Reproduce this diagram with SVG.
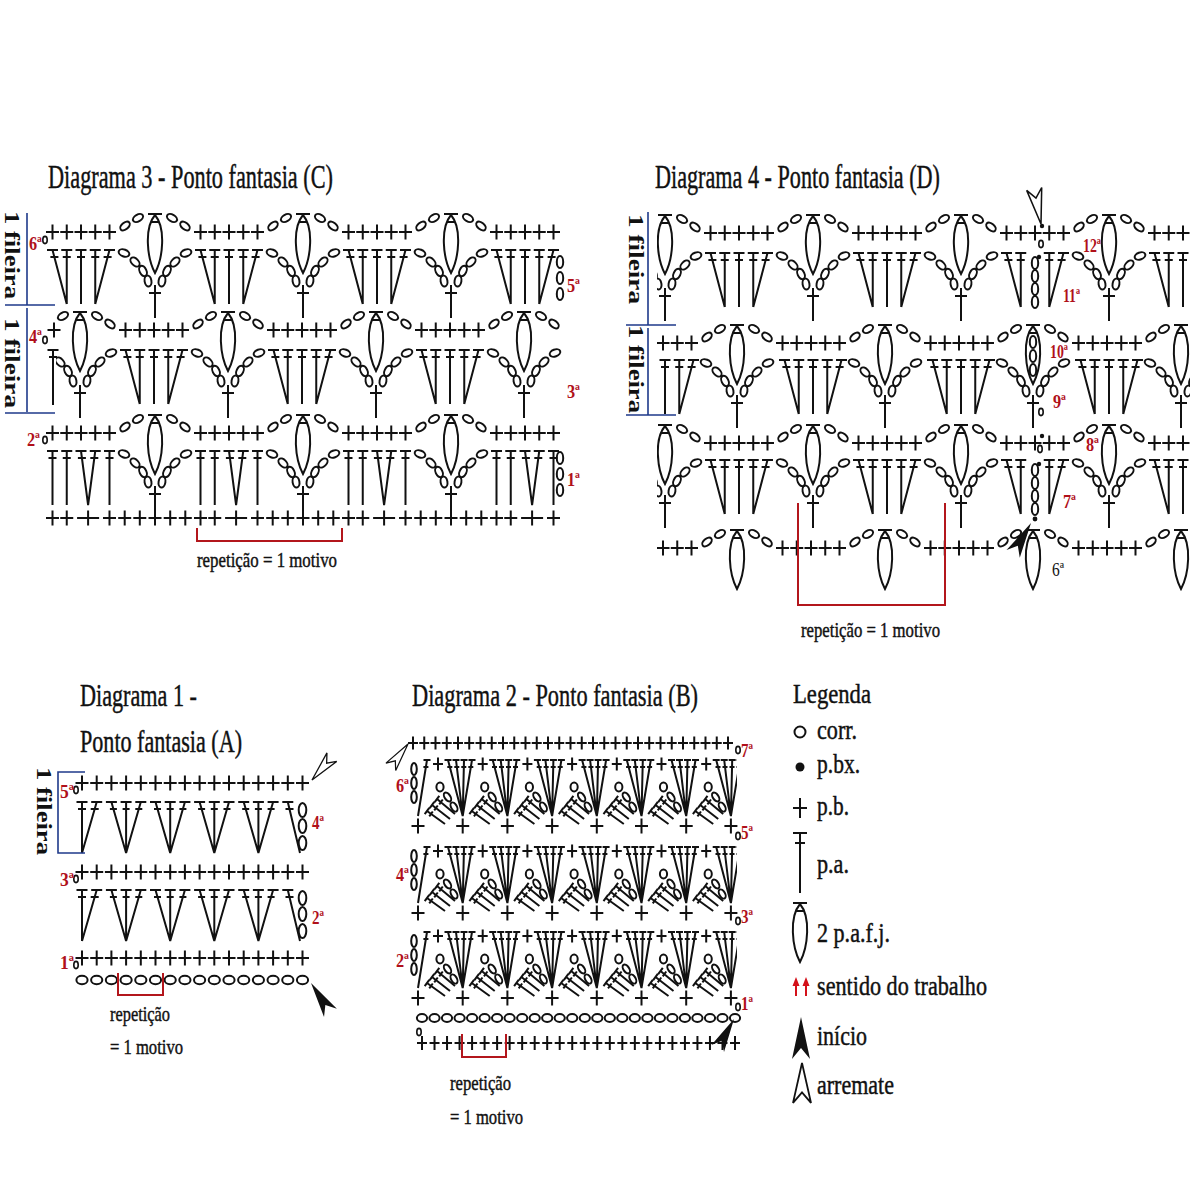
<svg xmlns="http://www.w3.org/2000/svg" width="1200" height="1200" viewBox="0 0 1200 1200">
<style>
.s{fill:none;stroke:#111;stroke-width:2}
.o{fill:none;stroke:#111;stroke-width:2}
.t{font-family:"Liberation Serif","Times New Roman",serif;fill:#111;stroke:#111;stroke-width:0.45}
.r{font-family:"Liberation Serif","Times New Roman",serif;font-weight:bold;font-size:19px;fill:#b0101a}
.fi{font-family:"Liberation Serif","Times New Roman",serif;font-weight:bold;font-size:21px;fill:#111}
.br{fill:none;stroke:#b3161c;stroke-width:2}
.bl{fill:none;stroke:#1f3a8a;stroke-width:1.6}
</style>
<defs>
<path id="p" class="s" d="M-6.5,0H6.5M0,-7.5V7.5"/>
<path id="q" class="s" d="M-5,0H5M0,-6.5V6.5"/>
<path id="pL" class="s" d="M-6,0H6M0,-8V25"/>
<path id="pW" class="s" d="M-11,0H11M0,-7.5V7.5"/>
<ellipse id="c" class="o" rx="5.5" ry="3.4"/>
<ellipse id="cv" class="o" rx="3.2" ry="6"/>
<ellipse id="cv1" class="o" rx="3.8" ry="7"/>
<ellipse id="cv2" class="o" rx="2.8" ry="6"/>
<ellipse id="cs" class="o" rx="2.2" ry="3.6" style="stroke-width:1.6"/>
<ellipse id="c1" class="o" rx="5.6" ry="4.2"/>
<ellipse id="c3" class="o" rx="5.1" ry="4"/>
<ellipse id="c2" class="o" rx="5" ry="2.8"/>
<path id="f" class="s" d="M-7,0H7M-4.5,8H4.5M0,1C-11,14 -8,44 0,59C8,44 11,14 0,1"/>
<path id="aF" d="M0,0L9,42L0,31L-9,42Z" fill="#111"/>
<path id="aO" d="M0,0L9,42L0,31L-9,42Z" fill="#fff" stroke="#111" stroke-width="1.8"/>
<g id="R">
<use href="#f" y="-18"/>
<use href="#c" transform="translate(17,-14) rotate(30)"/>
<use href="#c" transform="translate(30,-6) rotate(40)"/>
<use href="#c" transform="translate(118,-6) rotate(-40)"/>
<use href="#c" transform="translate(131,-14) rotate(-30)"/>
<use href="#p" x="45.5"/><use href="#p" x="59.75"/><use href="#p" x="74"/><use href="#p" x="88.25"/><use href="#p" x="102.5"/>
</g>
<g id="C">
<use href="#c" transform="translate(-31,3) rotate(20)"/>
<use href="#c" transform="translate(-20,12) rotate(45)"/>
<use href="#c" transform="translate(-12,21) rotate(65)"/>
<use href="#c" transform="translate(-7,31) rotate(80)"/>
<use href="#c" transform="translate(31,3) rotate(-20)"/>
<use href="#c" transform="translate(20,12) rotate(-45)"/>
<use href="#c" transform="translate(12,21) rotate(-65)"/>
<use href="#c" transform="translate(7,31) rotate(-80)"/>
<use href="#pL" y="43"/>
</g>
<path id="G" class="s" d="M-28.5,0L-14.25,54M-14.25,0V54M0,0V54M14.25,0V54M28.5,0L14.25,54M-34,0H-23M-19.75,0H-8.75M-5.5,0H5.5M8.75,0H19.75M23,0H34M-30.6,7H-22.6M-18.25,7H-10.25M-4,7H4M10.25,7H18.25M22.6,7H30.6"/>
<path id="G1" class="s" d="M-28.5,0V54M-14.25,0V54M0,0L7.1,54M14.25,0L7.1,54M28.5,0V54M-34,0H-23M-19.75,0H-8.75M-5.5,0H5.5M8.75,0H19.75M23,0H34M-32.5,7H-24.5M-18.25,7H-10.25M-3.1,7H4.9M9.3,7H17.3M24.5,7H32.5"/>
<g id="J">
<path class="s" d="M-28.5,0L-14.25,54M-14.25,0V54M14.25,0V54M28.5,0L14.25,54M-34,0H-23M-19.75,0H-8.75M8.75,0H19.75M23,0H34M-30.6,7H-22.6M-18.25,7H-10.25M10.25,7H18.25M22.6,7H30.6"/>
<use href="#cv" y="10"/><use href="#cv" y="23"/><use href="#cv" y="36"/><use href="#cv" y="49"/>
<circle cx="4" cy="4" r="2.2" fill="#111"/>
</g>
<path id="m1" class="s" d="M-14.7,0L0,51M0,0V51M14.7,0L0,51M-20.2,0H-9.2M-5.5,0H5.5M9.2,0H20.2M-16.2,7H-9.2M-3.5,7H3.5M9.2,7H16.2"/>
<g id="m2">
<use href="#q" x="20" y="4"/>
<path class="s" d="M30,0L44.7,56M38,0L44.7,56M46,0L44.7,56M54,0L44.7,56M26.5,0H33.5M34.5,0H41.5M42.5,0H49.5M50.5,0H57.5M29.3,7H34.3M36.3,7H41.3M43.3,7H48.3M50.3,7H55.3"/>
<ellipse class="o" cx="22" cy="27" rx="3.6" ry="4.4"/>
<use href="#c2" transform="translate(29.5,37) rotate(55)"/>
<use href="#c2" transform="translate(36,47) rotate(60)"/>
<path class="s" d="M9,51L27,64M14,45L32,59M19,39L37,54M6.7,54.2L11.3,47.8M11.7,48.2L16.3,41.8M16.7,42.2L21.3,35.8M11.25,56.3L14.75,51.5M16.25,50.3L19.75,45.5M21.25,44.3L24.75,39.5"/>
</g>
<g id="F3a"><use href="#p" x="-28.5"/><use href="#p" x="-14.25"/><use href="#pW" x="7.1"/><use href="#p" x="28.5"/></g>
<g id="F3b"><use href="#p" x="43.7"/><use href="#p" x="58.8"/><use href="#p" x="74"/><use href="#p" x="89.2"/><use href="#p" x="104.3"/></g>
<g id="r1"><use href="#p" x="82"/><use href="#p" x="96.7"/><use href="#p" x="111.4"/><use href="#p" x="126.1"/><use href="#p" x="140.8"/><use href="#p" x="155.5"/><use href="#p" x="170.2"/><use href="#p" x="184.9"/><use href="#p" x="199.6"/><use href="#p" x="214.3"/><use href="#p" x="229"/><use href="#p" x="243.7"/><use href="#p" x="258.4"/><use href="#p" x="273.1"/><use href="#p" x="287.8"/><use href="#p" x="302.5"/></g>
<g id="f1">
<path class="s" d="M82,0V51M76.5,0H87.5M78,7H86M96.7,0L82,51M91.2,0H102.2M90.7,7H98.7M287.8,0L300,51M282.3,0H293.3M285.5,7H293.5"/>
<use href="#m1" x="126.1"/><use href="#m1" x="170.2"/><use href="#m1" x="214.3"/><use href="#m1" x="258.4"/>
<use href="#cv1" x="302.5" y="8"/><use href="#cv1" x="302.5" y="24"/><use href="#cv1" x="302.5" y="41"/>
</g>
<g id="F2">
<path class="s" d="M427,0L418,56M423.5,0H430.5M423.4,7H428.4"/>
<use href="#cv2" x="414" y="9"/><use href="#cv2" x="414" y="23"/><use href="#cv2" x="414" y="37"/>
<use href="#m2" x="418"/><use href="#m2" x="462.7"/><use href="#m2" x="507.4"/><use href="#m2" x="552.1"/><use href="#m2" x="596.8"/><use href="#m2" x="641.5"/><use href="#m2" x="686.2"/>
</g>
<g id="P2"><use href="#p" x="418"/><use href="#p" x="462.7"/><use href="#p" x="507.4"/><use href="#p" x="552.1"/><use href="#p" x="596.8"/><use href="#p" x="641.5"/><use href="#p" x="686.2"/><use href="#p" x="730.9"/></g>
<clipPath id="k3a"><rect x="45" y="150" width="518" height="420"/></clipPath>
<clipPath id="k3b"><rect x="56" y="150" width="507" height="420"/></clipPath>
<clipPath id="k4"><rect x="657" y="190" width="533" height="420"/></clipPath>
<clipPath id="k2"><rect x="400" y="740" width="337" height="300"/></clipPath>
</defs>
<rect width="1200" height="1200" fill="#fff"/>

<g id="diagram3">
<text class="t" x="48" y="188" font-size="33" textLength="285" lengthAdjust="spacingAndGlyphs">Diagrama 3 - Ponto fantasia (C)</text>
<g clip-path="url(#k3a)">
<use href="#R" x="7" y="232"/><use href="#R" x="155" y="232"/><use href="#R" x="303" y="232"/><use href="#R" x="451" y="232"/>
<use href="#G" x="81" y="250"/><use href="#G" x="229" y="250"/><use href="#G" x="377" y="250"/><use href="#G" x="525" y="250"/>
<use href="#C" x="155" y="250"/><use href="#C" x="303" y="250"/><use href="#C" x="451" y="250"/>
<use href="#R" x="7" y="433"/><use href="#R" x="155" y="433"/><use href="#R" x="303" y="433"/><use href="#R" x="451" y="433"/>
<use href="#G1" x="81" y="451"/><use href="#G1" x="229" y="451"/><use href="#G1" x="377" y="451"/><use href="#G1" x="525" y="451"/>
<use href="#C" x="155" y="451"/><use href="#C" x="303" y="451"/><use href="#C" x="451" y="451"/>
</g>
<g clip-path="url(#k3b)">
<use href="#R" x="-68" y="330"/><use href="#R" x="80" y="330"/><use href="#R" x="228" y="330"/><use href="#R" x="376" y="330"/><use href="#R" x="524" y="330"/>
<use href="#G" x="154" y="350"/><use href="#G" x="302" y="350"/><use href="#G" x="450" y="350"/>
<use href="#C" x="80" y="350"/><use href="#C" x="228" y="350"/><use href="#C" x="376" y="350"/><use href="#C" x="524" y="350"/>
</g>
<use href="#p" x="54" y="330"/>
<path class="s" d="M53,350V405M47.5,350H58.5M49,357H57"/>
<use href="#cs" x="45" y="240"/><use href="#cs" x="45" y="340"/><use href="#cs" x="45" y="440"/>
<use href="#cv" x="560" y="262"/><use href="#cv" x="560" y="278"/><use href="#cv" x="560" y="294"/>
<use href="#cv" x="560" y="458"/><use href="#cv" x="560" y="474"/><use href="#cv" x="560" y="490"/>
<use href="#F3a" x="81" y="518"/><use href="#F3a" x="229" y="518"/><use href="#F3a" x="377" y="518"/><use href="#F3a" x="525" y="518"/>
<use href="#F3b" x="81" y="518"/><use href="#F3b" x="229" y="518"/><use href="#F3b" x="377" y="518"/>
<path class="br" d="M197,528V541H342V528"/>
<text class="t" x="197" y="567" font-size="22" textLength="140" lengthAdjust="spacingAndGlyphs">repetição = 1 motivo</text>
<path class="bl" d="M27,213V305M5,305H55M27,308V412M5,413H55"/>
<text class="fi" transform="translate(5,211) rotate(90)" textLength="88" lengthAdjust="spacingAndGlyphs">1 fileira</text>
<text class="fi" transform="translate(5,318) rotate(90)" textLength="90" lengthAdjust="spacingAndGlyphs">1 fileira</text>
<text class="r" x="29" y="250" textLength="13" lengthAdjust="spacingAndGlyphs">6ª</text>
<text class="r" x="29" y="343" textLength="13" lengthAdjust="spacingAndGlyphs">4ª</text>
<text class="r" x="27" y="446" textLength="13" lengthAdjust="spacingAndGlyphs">2ª</text>
<text class="r" x="567" y="292" textLength="13" lengthAdjust="spacingAndGlyphs">5ª</text>
<text class="r" x="567" y="398" textLength="13" lengthAdjust="spacingAndGlyphs">3ª</text>
<text class="r" x="567" y="486" textLength="13" lengthAdjust="spacingAndGlyphs">1ª</text>
</g>

<g id="diagram4">
<text class="t" x="655" y="188" font-size="33" textLength="285" lengthAdjust="spacingAndGlyphs">Diagrama 4 - Ponto fantasia (D)</text>
<g clip-path="url(#k4)">
<use href="#R" x="665" y="233"/><use href="#R" x="813" y="233"/><use href="#R" x="961" y="233"/><use href="#R" x="1109" y="233"/>
<use href="#G" x="739" y="253"/><use href="#G" x="887" y="253"/><use href="#J" x="1035" y="253"/><use href="#G" x="1183" y="253"/>
<use href="#C" x="665" y="253"/><use href="#C" x="813" y="253"/><use href="#C" x="961" y="253"/><use href="#C" x="1109" y="253"/>
<use href="#R" x="589" y="343"/><use href="#R" x="737" y="343"/><use href="#R" x="885" y="343"/><use href="#R" x="1033" y="343"/><use href="#R" x="1181" y="343"/>
<use href="#G" x="665" y="360"/><use href="#G" x="813" y="360"/><use href="#G" x="961" y="360"/><use href="#G" x="1109" y="360"/>
<use href="#C" x="737" y="360"/><use href="#C" x="885" y="360"/><use href="#C" x="1033" y="360"/><use href="#C" x="1181" y="360"/>
<use href="#R" x="665" y="443"/><use href="#R" x="813" y="443"/><use href="#R" x="961" y="443"/><use href="#R" x="1109" y="443"/>
<use href="#G" x="739" y="460"/><use href="#G" x="887" y="460"/><use href="#J" x="1035" y="460"/><use href="#G" x="1183" y="460"/>
<use href="#C" x="665" y="460"/><use href="#C" x="813" y="460"/><use href="#C" x="961" y="460"/><use href="#C" x="1109" y="460"/>
<use href="#R" x="589" y="548"/><use href="#R" x="737" y="548"/><use href="#R" x="885" y="548"/><use href="#R" x="1033" y="548"/><use href="#R" x="1181" y="548"/>
</g>
<circle cx="1042" cy="226" r="2.2" fill="#111"/><use href="#cs" x="1041" y="244"/>
<circle cx="1042" cy="436" r="2.2" fill="#111"/><use href="#cs" x="1040" y="449"/>
<use href="#cv" x="1033" y="342"/><use href="#cv" x="1033" y="356"/><use href="#cv" x="1033" y="370"/>
<use href="#cs" x="1041" y="412"/>
<circle cx="1035" cy="519" r="2.4" fill="#111"/>
<use href="#aF" transform="translate(1031,523) rotate(30) scale(0.85)"/>
<use href="#aO" transform="translate(1041,224) rotate(169) scale(0.85)"/>
<path class="bl" d="M648,212V325M626,325H676M648,328V415M626,415H676"/>
<text class="fi" transform="translate(629,214) rotate(90)" textLength="90" lengthAdjust="spacingAndGlyphs">1 fileira</text>
<text class="fi" transform="translate(629,325) rotate(90)" textLength="88" lengthAdjust="spacingAndGlyphs">1 fileira</text>
<path class="br" d="M798,503V605H945V503"/>
<text class="t" x="801" y="637" font-size="22" textLength="139" lengthAdjust="spacingAndGlyphs">repetição = 1 motivo</text>
<text class="r" x="1083" y="252" textLength="18" lengthAdjust="spacingAndGlyphs">12ª</text>
<text class="r" x="1063" y="302" textLength="17" lengthAdjust="spacingAndGlyphs">11ª</text>
<text class="r" x="1050" y="358" textLength="18" lengthAdjust="spacingAndGlyphs">10ª</text>
<text class="r" x="1053" y="408" textLength="13" lengthAdjust="spacingAndGlyphs">9ª</text>
<text class="r" x="1086" y="451" textLength="13" lengthAdjust="spacingAndGlyphs">8ª</text>
<text class="r" x="1063" y="508" textLength="13" lengthAdjust="spacingAndGlyphs">7ª</text>
<text class="r" x="1052" y="576" textLength="12" lengthAdjust="spacingAndGlyphs" style="fill:#111;font-weight:normal">6ª</text>
</g>

<g id="diagram1">
<text class="t" x="80" y="706" font-size="31" textLength="117" lengthAdjust="spacingAndGlyphs">Diagrama 1 -</text>
<text class="t" x="80" y="752" font-size="31" textLength="162" lengthAdjust="spacingAndGlyphs">Ponto fantasia (A)</text>
<use href="#r1" y="783"/><use href="#r1" y="872"/><use href="#r1" y="958"/>
<use href="#f1" y="802"/><use href="#f1" y="890"/>
<use href="#cs" x="76" y="790"/><use href="#cs" x="76" y="879"/><use href="#cs" x="76" y="965"/>
<g>
<use href="#c1" x="82" y="980"/><use href="#c1" x="96.7" y="980"/><use href="#c1" x="111.4" y="980"/><use href="#c1" x="126.1" y="980"/><use href="#c1" x="140.8" y="980"/><use href="#c1" x="155.5" y="980"/><use href="#c1" x="170.2" y="980"/><use href="#c1" x="184.9" y="980"/><use href="#c1" x="199.6" y="980"/><use href="#c1" x="214.3" y="980"/><use href="#c1" x="229" y="980"/><use href="#c1" x="243.7" y="980"/><use href="#c1" x="258.4" y="980"/><use href="#c1" x="273.1" y="980"/><use href="#c1" x="287.8" y="980"/><use href="#c1" x="302.5" y="980"/>
</g>
<path class="br" d="M118,973V995H163V973"/>
<text class="t" x="110" y="1021" font-size="22" textLength="60" lengthAdjust="spacingAndGlyphs">repetição</text>
<text class="t" x="110" y="1054" font-size="22" textLength="73" lengthAdjust="spacingAndGlyphs">= 1 motivo</text>
<path class="bl" d="M85,772H58V853H85"/>
<text class="fi" transform="translate(37,767) rotate(90)" font-size="20" textLength="88" lengthAdjust="spacingAndGlyphs">1 fileira</text>
<use href="#aF" transform="translate(311,983) rotate(-33) scale(0.85)"/>
<use href="#aO" transform="translate(312,780) rotate(-139) scale(0.72)"/>
<text class="r" x="60" y="798" textLength="14" lengthAdjust="spacingAndGlyphs">5ª</text>
<text class="r" x="312" y="829" textLength="12" lengthAdjust="spacingAndGlyphs">4ª</text>
<text class="r" x="60" y="886" textLength="14" lengthAdjust="spacingAndGlyphs">3ª</text>
<text class="r" x="312" y="924" textLength="12" lengthAdjust="spacingAndGlyphs">2ª</text>
<text class="r" x="60" y="969" textLength="14" lengthAdjust="spacingAndGlyphs">1ª</text>
</g>

<g id="diagram2">
<text class="t" transform="translate(412,706) scale(0.7,1)" font-size="32" textLength="408.6" lengthAdjust="spacingAndGlyphs">Diagrama 2 - Ponto fantasia (B)</text>
<path class="s" d="M413,736.5v13m11.25,-13v13m11.25,-13v13m11.25,-13v13m11.25,-13v13m11.25,-13v13m11.25,-13v13m11.25,-13v13m11.25,-13v13m11.25,-13v13m11.25,-13v13m11.25,-13v13m11.25,-13v13m11.25,-13v13m11.25,-13v13m11.25,-13v13m11.25,-13v13m11.25,-13v13m11.25,-13v13m11.25,-13v13m11.25,-13v13m11.25,-13v13m11.25,-13v13m11.25,-13v13m11.25,-13v13m11.25,-13v13m11.25,-13v13m11.25,-13v13m11.25,-13v13M408,743h10m1.25,0h10m1.25,0h10m1.25,0h10m1.25,0h10m1.25,0h10m1.25,0h10m1.25,0h10m1.25,0h10m1.25,0h10m1.25,0h10m1.25,0h10m1.25,0h10m1.25,0h10m1.25,0h10m1.25,0h10m1.25,0h10m1.25,0h10m1.25,0h10m1.25,0h10m1.25,0h10m1.25,0h10m1.25,0h10m1.25,0h10m1.25,0h10m1.25,0h10m1.25,0h10m1.25,0h10m1.25,0h10"/>
<g clip-path="url(#k2)">
<use href="#F2" y="760"/><use href="#F2" y="847"/><use href="#F2" y="932"/>
</g>
<use href="#P2" y="826"/><use href="#P2" y="913"/><use href="#P2" y="998"/>
<g>
<use href="#c3" x="422" y="1018"/><use href="#c3" x="434.5" y="1018"/><use href="#c3" x="447" y="1018"/><use href="#c3" x="459.6" y="1018"/><use href="#c3" x="472.1" y="1018"/><use href="#c3" x="484.6" y="1018"/><use href="#c3" x="497.1" y="1018"/><use href="#c3" x="509.6" y="1018"/><use href="#c3" x="522.2" y="1018"/><use href="#c3" x="534.7" y="1018"/><use href="#c3" x="547.2" y="1018"/><use href="#c3" x="559.7" y="1018"/><use href="#c3" x="572.2" y="1018"/><use href="#c3" x="584.8" y="1018"/><use href="#c3" x="597.3" y="1018"/><use href="#c3" x="609.8" y="1018"/><use href="#c3" x="622.3" y="1018"/><use href="#c3" x="634.8" y="1018"/><use href="#c3" x="647.4" y="1018"/><use href="#c3" x="659.9" y="1018"/><use href="#c3" x="672.4" y="1018"/><use href="#c3" x="684.9" y="1018"/><use href="#c3" x="697.4" y="1018"/><use href="#c3" x="710" y="1018"/><use href="#c3" x="722.5" y="1018"/><use href="#c3" x="735" y="1018"/>
</g>
<path class="s" d="M422,1036v14m12.52,-14v14m12.52,-14v14m12.52,-14v14m12.52,-14v14m12.52,-14v14m12.52,-14v14m12.52,-14v14m12.52,-14v14m12.52,-14v14m12.52,-14v14m12.52,-14v14m12.52,-14v14m12.52,-14v14m12.52,-14v14m12.52,-14v14m12.52,-14v14m12.52,-14v14m12.52,-14v14m12.52,-14v14m12.52,-14v14m12.52,-14v14m12.52,-14v14m12.52,-14v14m12.52,-14v14m12.52,-14v14M417,1043h10m2.52,0h10m2.52,0h10m2.52,0h10m2.52,0h10m2.52,0h10m2.52,0h10m2.52,0h10m2.52,0h10m2.52,0h10m2.52,0h10m2.52,0h10m2.52,0h10m2.52,0h10m2.52,0h10m2.52,0h10m2.52,0h10m2.52,0h10m2.52,0h10m2.52,0h10m2.52,0h10m2.52,0h10m2.52,0h10m2.52,0h10m2.52,0h10m2.52,0h10"/>
<use href="#cs" x="419" y="1032"/>
<use href="#cs" x="738" y="750"/><use href="#cs" x="738" y="836"/><use href="#cs" x="738" y="921"/><use href="#cs" x="738" y="1007"/>
<path class="br" d="M462,1034V1057H506V1034"/>
<text class="t" x="450" y="1090" font-size="22" textLength="61" lengthAdjust="spacingAndGlyphs">repetição</text>
<text class="t" x="450" y="1124" font-size="22" textLength="73" lengthAdjust="spacingAndGlyphs">= 1 motivo</text>
<use href="#aF" transform="translate(734,1019) rotate(29) scale(0.8)"/>
<use href="#aO" transform="translate(408,744) rotate(37) scale(0.68)"/>
<text class="r" x="741" y="757" textLength="12" lengthAdjust="spacingAndGlyphs">7ª</text>
<text class="r" x="396" y="792" textLength="13" lengthAdjust="spacingAndGlyphs">6ª</text>
<text class="r" x="741" y="839" textLength="12" lengthAdjust="spacingAndGlyphs">5ª</text>
<text class="r" x="396" y="881" textLength="13" lengthAdjust="spacingAndGlyphs">4ª</text>
<text class="r" x="741" y="923" textLength="12" lengthAdjust="spacingAndGlyphs">3ª</text>
<text class="r" x="396" y="967" textLength="13" lengthAdjust="spacingAndGlyphs">2ª</text>
<text class="r" x="741" y="1010" textLength="12" lengthAdjust="spacingAndGlyphs">1ª</text>
</g>

<g id="legend">
<text class="t" x="793" y="703" font-size="28" textLength="78" lengthAdjust="spacingAndGlyphs">Legenda</text>
<circle cx="800" cy="732" r="5.5" class="o"/>
<text class="t" x="817" y="739" font-size="27" textLength="40" lengthAdjust="spacingAndGlyphs">corr.</text>
<circle cx="800" cy="767" r="4.5" fill="#111"/>
<text class="t" x="817" y="773" font-size="27" textLength="43" lengthAdjust="spacingAndGlyphs">p.bx.</text>
<path class="s" d="M793,808H807M800,798V818"/>
<text class="t" x="817" y="815" font-size="27" textLength="32" lengthAdjust="spacingAndGlyphs">p.b.</text>
<path class="s" d="M793,833H807M795,843H805M800,833V893"/>
<text class="t" x="817" y="873" font-size="27" textLength="32" lengthAdjust="spacingAndGlyphs">p.a.</text>
<use href="#f" x="800" y="903"/>
<text class="t" x="817" y="942" font-size="27" textLength="73" lengthAdjust="spacingAndGlyphs">2 p.a.f.j.</text>
<path d="M796,996V984M806,996V984" stroke="#d4111a" stroke-width="2" fill="none"/>
<path d="M792.5,986L796,977L799.5,986ZM802.5,986L806,977L809.5,986Z" fill="#d4111a"/>
<text class="t" x="817" y="995" font-size="27" textLength="170" lengthAdjust="spacingAndGlyphs">sentido do trabalho</text>
<use href="#aF" x="801" y="1017"/>
<text class="t" x="817" y="1045" font-size="27" textLength="50" lengthAdjust="spacingAndGlyphs">início</text>
<use href="#aO" transform="translate(802,1063) scale(1,0.95)"/>
<text class="t" x="817" y="1094" font-size="27" textLength="77" lengthAdjust="spacingAndGlyphs">arremate</text>
</g>
</svg>
